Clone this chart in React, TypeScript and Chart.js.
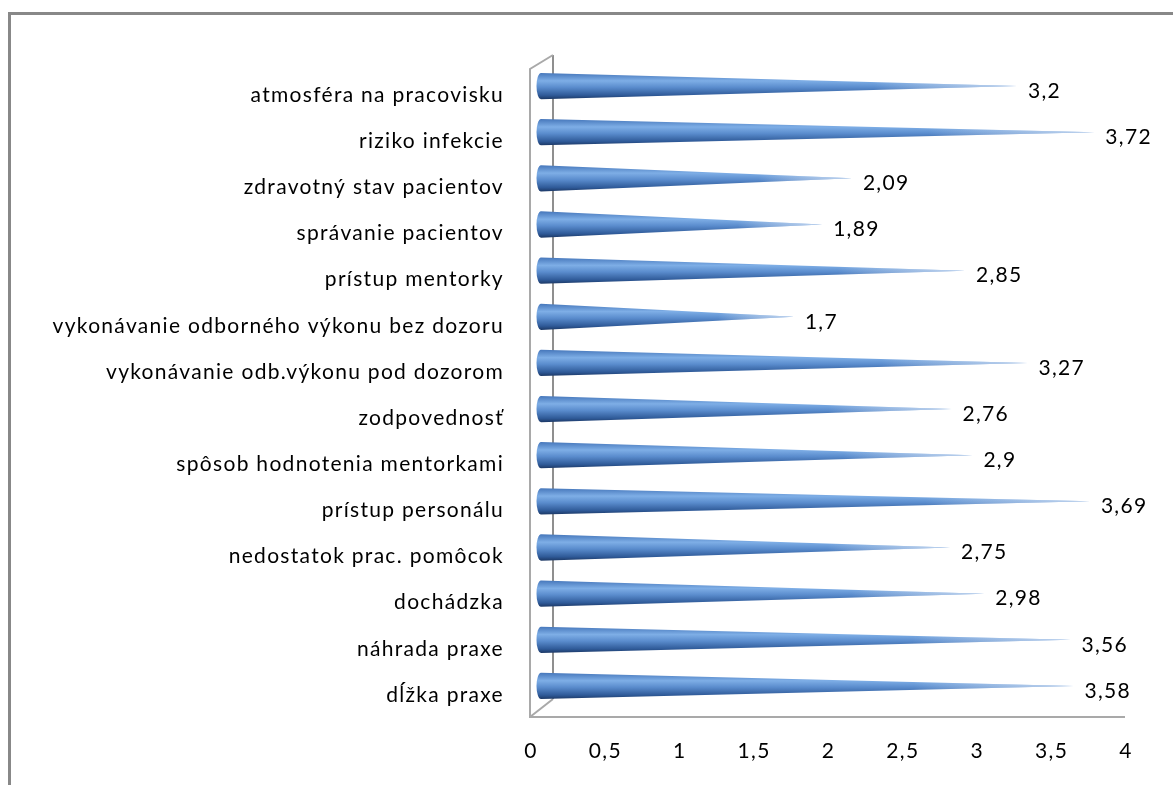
import { useEffect, useRef } from 'react';
import { Chart, registerables } from 'chart.js';

Chart.register(...registerables);

// Survey items (top to bottom) and their mean scores
const categories = [
  'atmosféra na pracovisku',
  'riziko infekcie',
  'zdravotný stav pacientov',
  'správanie pacientov',
  'prístup mentorky',
  'vykonávanie odborného výkonu bez dozoru',
  'vykonávanie odb.výkonu pod dozorom',
  'zodpovednosť',
  'spôsob hodnotenia mentorkami',
  'prístup personálu',
  'nedostatok prac. pomôcok',
  'dochádzka',
  'náhrada praxe',
  'dĺžka praxe',
];

const scores = [3.2, 3.72, 2.09, 1.89, 2.85, 1.7, 3.27, 2.76, 2.9, 3.69, 2.75, 2.98, 3.56, 3.58];

const axisMin = 0;
const axisMax = 4;
const axisStep = 0.5;

const FONT = 'Lato, "Open Sans", sans-serif';
const FONT_SIZE = 21;
const LETTER_SPACING = '1.3px';
const TEXT_COLOR = '#000000';
const fmt = (v: number) => String(v).replace('.', ',');

// Pseudo-3D offsets of the front and back planes relative to the bar plane
const FRONT_DX = -11;
const BACK_DX = 12;

const framePlugin = {
  id: 'frame',
  beforeDraw(chart: any) {
    const { ctx, width, height } = chart;
    // wider glyph spacing for every text drawn on this chart
    (ctx as any).letterSpacing = LETTER_SPACING;
    ctx.save();
    ctx.fillStyle = '#ffffff';
    ctx.fillRect(0, 0, width, height);
    ctx.fillStyle = '#888888';
    ctx.fillRect(8, 12, 3, height - 12);
    ctx.fillRect(8, 12, width - 8, 3);
    ctx.restore();
  },
};

const wallsPlugin = {
  id: 'walls',
  beforeDatasetsDraw(chart: any) {
    const { ctx, chartArea } = chart;
    const { left, right, top, bottom } = chartArea;
    const fx = left + FRONT_DX;
    const bx = left + BACK_DX;
    ctx.save();
    ctx.lineWidth = 2;
    // back wall edge
    ctx.strokeStyle = '#8f8f8f';
    ctx.beginPath();
    ctx.moveTo(bx, top - 8);
    ctx.lineTo(bx, bottom - 10);
    ctx.stroke();
    // front wall edge, top/bottom diagonals and floor edge
    ctx.strokeStyle = '#a9a9a9';
    ctx.beginPath();
    ctx.moveTo(bx, top - 8);
    ctx.lineTo(fx, top + 6);
    ctx.lineTo(fx, bottom + 8);
    ctx.lineTo(right + FRONT_DX, bottom + 8);
    ctx.moveTo(fx, bottom + 8);
    ctx.lineTo(bx, bottom - 10);
    ctx.stroke();
    ctx.restore();
  },
};

const conesPlugin = {
  id: 'cones',
  afterDatasetsDraw(chart: any) {
    const { ctx } = chart;
    const meta = chart.getDatasetMeta(0);
    ctx.save();
    meta.data.forEach((el: any, i: number) => {
      const { x, y, base, height } = el.getProps(['x', 'y', 'base', 'height'], true);
      const h = height;
      const rx = 4.5;
      const grad = ctx.createLinearGradient(0, y - h / 2, 0, y + h / 2);
      grad.addColorStop(0, '#4677bb');
      grad.addColorStop(0.3, '#7eaee6');
      grad.addColorStop(0.55, '#5a8ccd');
      grad.addColorStop(0.85, '#2f5a98');
      grad.addColorStop(1, '#1c3865');
      ctx.beginPath();
      ctx.moveTo(base, y - h / 2);
      ctx.lineTo(x, y);
      ctx.lineTo(base, y + h / 2);
      ctx.ellipse(base, y, rx, h / 2, 0, Math.PI / 2, (3 * Math.PI) / 2, false);
      ctx.closePath();
      ctx.fillStyle = grad;
      ctx.fill();
      // the thin end fades out
      const fade = ctx.createLinearGradient(base, 0, x, 0);
      fade.addColorStop(0, 'rgba(255,255,255,0)');
      fade.addColorStop(0.7, 'rgba(255,255,255,0)');
      fade.addColorStop(1, 'rgba(220,232,248,0.75)');
      ctx.fillStyle = fade;
      ctx.fill();

      // value label
      ctx.fillStyle = TEXT_COLOR;
      ctx.font = `${FONT_SIZE}px ${FONT}`;
      ctx.textAlign = 'left';
      ctx.textBaseline = 'middle';
      ctx.fillText(fmt(scores[i]), x + 11, y + 5);
    });
    ctx.restore();
  },
};

export default function App() {
  const canvasRef = useRef<HTMLCanvasElement | null>(null);

  useEffect(() => {
    if (!canvasRef.current) return;
    const chart = new Chart(canvasRef.current, {
      type: 'bar',
      data: {
        labels: categories,
        datasets: [
          {
            data: scores,
            backgroundColor: 'rgba(0,0,0,0)',
            borderWidth: 0,
            categoryPercentage: 1,
            barPercentage: 0.57,
          },
        ],
      },
      options: {
        indexAxis: 'y',
        responsive: false,
        animation: false,
        devicePixelRatio: 1,
        layout: { padding: { top: 63, right: 37, bottom: 0, left: 0 } },
        plugins: {
          legend: { display: false },
          tooltip: { enabled: false },
        },
        scales: {
          x: {
            type: 'linear',
            min: axisMin,
            max: axisMax,
            grid: { display: false, drawTicks: false },
            border: { display: false },
            ticks: {
              stepSize: axisStep,
              color: TEXT_COLOR,
              font: { family: FONT, size: FONT_SIZE },
              padding: 30,
              labelOffset: FRONT_DX + 1,
              callback: (v: any) => fmt(Number(v)),
            },
            afterFit: (scale: any) => {
              scale.height = 76;
            },
          },
          y: {
            grid: { display: false, drawTicks: false },
            border: { display: false },
            ticks: {
              color: TEXT_COLOR,
              font: { family: FONT, size: FONT_SIZE },
              padding: 37,
              labelOffset: 9,
              autoSkip: false,
            },
            afterFit: (scale: any) => {
              scale.width = 541;
            },
          },
        },
      },
      plugins: [framePlugin, wallsPlugin, conesPlugin],
    });
    return () => chart.destroy();
  }, []);

  return (
    <div style={{ position: 'fixed', left: 0, top: 0, width: 1173, height: 785, background: '#fff' }}>
      <canvas ref={canvasRef} width={1173} height={785} />
    </div>
  );
}
